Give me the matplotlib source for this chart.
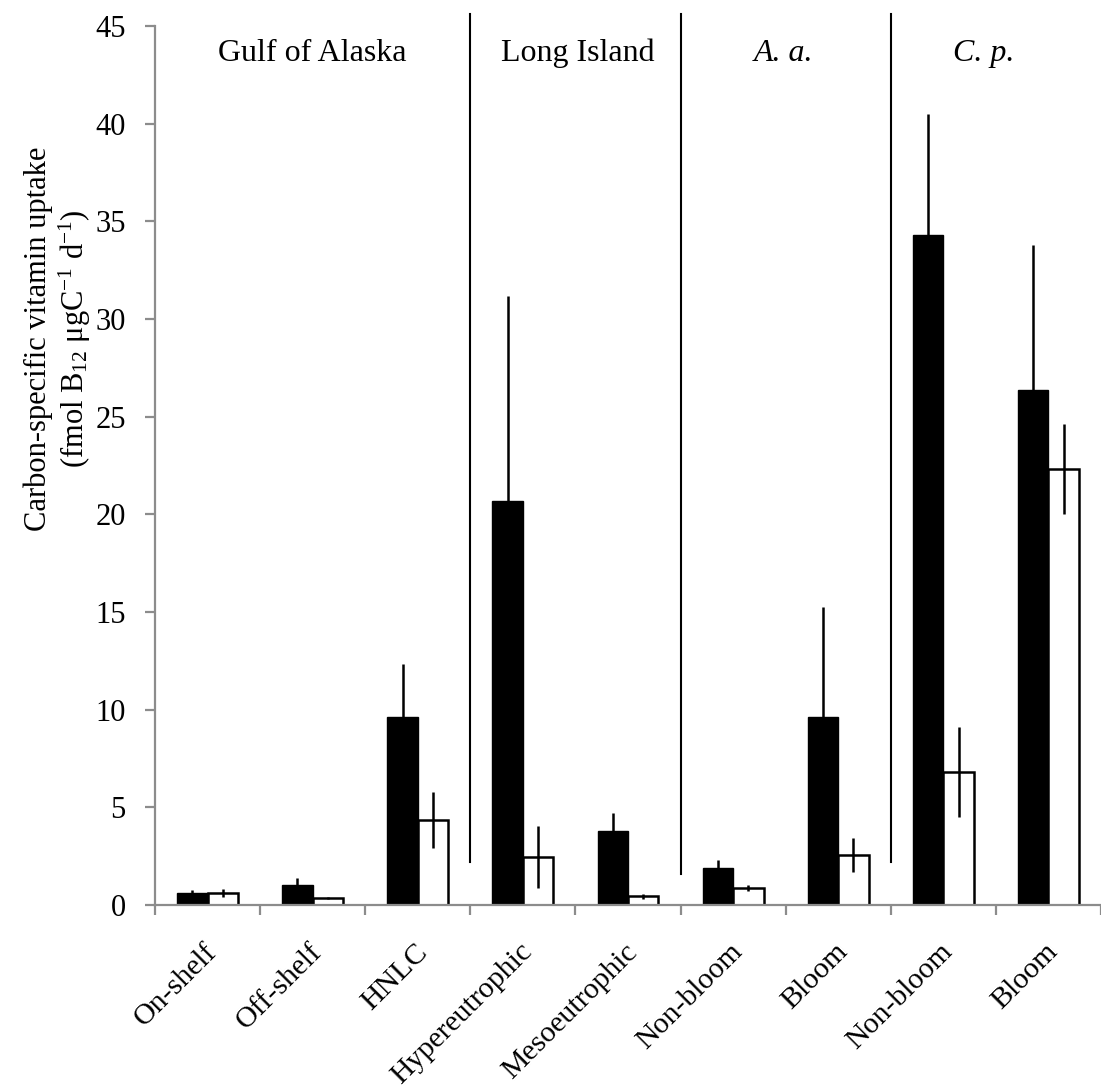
import matplotlib
matplotlib.use("Agg")
import matplotlib.pyplot as plt
import numpy as np

plt.rcParams['font.family'] = ['Liberation Serif', 'DejaVu Serif']
plt.rcParams['mathtext.fontset'] = 'custom'
plt.rcParams['mathtext.rm'] = 'Liberation Serif'
plt.rcParams['mathtext.it'] = 'Liberation Serif:italic'

categories = ["On-shelf", "Off-shelf", "HNLC", "Hypereutrophic", "Mesoeutrophic",
              "Non-bloom", "Bloom", "Non-bloom", "Bloom"]
black_vals = [0.6, 1.0, 9.65, 20.7, 3.8, 1.9, 9.6, 34.3, 26.35]
black_err = [0.15, 0.4, 2.7, 10.5, 0.9, 0.4, 5.65, 6.2, 7.45]
white_vals = [0.6, 0.35, 4.35, 2.45, 0.45, 0.85, 2.55, 6.8, 22.3]
white_err = [0.2, 0.05, 1.45, 1.6, 0.12, 0.15, 0.87, 2.3, 2.3]

group_labels = ["Gulf of Alaska", "Long Island", "A. a.", "C. p."]
group_label_x = [1.0, 3.52, 5.48, 7.38]
group_label_style = ["normal", "normal", "italic", "italic"]
separator_x = [2.5, 4.5, 6.5]
separator_bottom = [2.2, 1.6, 2.2]
separator_top = 45.6

yticks = [0, 5, 10, 15, 20, 25, 30, 35, 40, 45]

W, H = 1101, 1092
fig = plt.figure(figsize=(W / 100, H / 100), dpi=100)
ax = fig.add_axes([155 / W, 1 - 905 / H, (W - 155) / W, (905 - 26) / H])

x = np.arange(len(categories))
bw = 0.29
ax.bar(x - bw / 2, black_vals, bw, color='black', edgecolor='black', linewidth=1.0, zorder=2)
ax.bar(x + bw / 2, white_vals, bw, color='white', edgecolor='black', linewidth=1.8, zorder=2)
ax.errorbar(x - bw / 2, black_vals, yerr=[np.zeros(len(x)), black_err], fmt='none',
            ecolor='black', elinewidth=1.8, capsize=0, zorder=3)
ax.errorbar(x + bw / 2, white_vals, yerr=white_err, fmt='none',
            ecolor='black', elinewidth=1.8, capsize=0, zorder=3)

for sx, sb in zip(separator_x, separator_bottom):
    ax.plot([sx, sx], [sb, separator_top], color='black', lw=1.5, clip_on=False, zorder=4)

for lbl, gx, st in zip(group_labels, group_label_x, group_label_style):
    ax.text(gx, 43.6, lbl, ha='center', va='center', fontsize=23, style=st)

ax.set_xlim(-0.5, len(categories) - 0.5)
ax.set_ylim(0, 45)
ax.set_yticks(yticks)
ax.set_yticklabels([str(t) for t in yticks], fontsize=22)
ax.set_xticks(np.arange(len(categories) + 1) - 0.5)
ax.set_xticklabels([])

gray = '#8c8c8c'
for side in ['top', 'right']:
    ax.spines[side].set_visible(False)
for side in ['left', 'bottom']:
    ax.spines[side].set_color(gray)
    ax.spines[side].set_linewidth(1.6)
ax.tick_params(axis='both', color=gray, width=1.6, length=7, direction='out')
ax.tick_params(axis='y', pad=14)

for i, lbl in enumerate(categories):
    ax.annotate(lbl, xy=(i, 0), xycoords=('data', 'axes fraction'),
                xytext=(4, -31), textcoords='offset points',
                rotation=45, ha='right', va='center', rotation_mode='anchor',
                fontsize=21.5)

fig.text(58 / W, 1 - 339 / H,
         "Carbon-specific vitamin uptake\n(fmol B$_{12}$ \u03bcgC$^{-1}$ d$^{-1}$)",
         rotation=90, ha='center', va='center', fontsize=22, linespacing=1.15,
         multialignment='center')

fig.savefig("out.png", dpi=100)
